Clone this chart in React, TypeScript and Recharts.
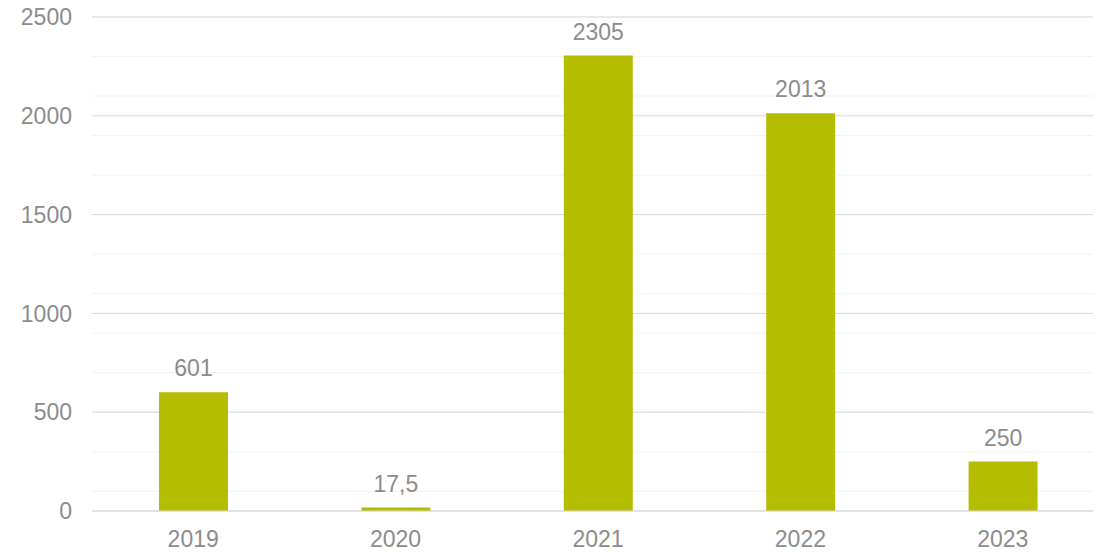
import { Bar, BarChart, CartesianGrid, LabelList, XAxis, YAxis } from "recharts";

const years = ["2019", "2020", "2021", "2022", "2023"];
const values = [601, 17.5, 2305, 2013, 250];
const majorTicks = [0, 500, 1000, 1500, 2000, 2500];
const minorTicks = [
	0, 100, 200, 300, 400, 500, 600, 700, 800, 900, 1000, 1100, 1200, 1300,
	1400, 1500, 1600, 1700, 1800, 1900, 2000, 2100, 2200, 2300, 2400, 2500,
];

const data = years.map((year, i) => ({ year, value: values[i] }));

const textColor = "#8c8c8c";
const font = "'Liberation Sans', Arial, sans-serif";

const App = () => {
	return (
		<div style={{ margin: "-8px 0 0 -8px", fontFamily: font }}>
			<BarChart
				width={1101}
				height={552}
				data={data}
				margin={{ top: 17, right: -3, bottom: 0, left: 0 }}
			>
				<CartesianGrid
					vertical={false}
					horizontalValues={minorTicks}
					stroke="#f2f2f2"
					strokeWidth={1}
				/>
				<CartesianGrid vertical={false} stroke="#d9d9d9" strokeWidth={1} />
				<XAxis
					dataKey="year"
					height={41}
					axisLine={{ stroke: "#d9d9d9" }}
					tickLine={false}
					tickSize={0}
					tickMargin={20}
					tick={{ fill: textColor, fontSize: 23, fontFamily: font }}
				/>
				<YAxis
					domain={[0, 2500]}
					ticks={majorTicks}
					width={92}
					axisLine={false}
					tickLine={false}
					tickSize={0}
					tickMargin={20}
					tick={{ fill: textColor, fontSize: 23, fontFamily: font }}
				/>
				<Bar
					dataKey="value"
					fill="#b5bd00"
					barSize={69}
					isAnimationActive={false}
				>
					<LabelList
						dataKey="value"
						position="top"
						offset={16}
						fill={textColor}
						fontSize={23}
						fontFamily={font}
						formatter={(v: number) => String(v).replace(".", ",")}
					/>
				</Bar>
			</BarChart>
		</div>
	);
};

export default App;
